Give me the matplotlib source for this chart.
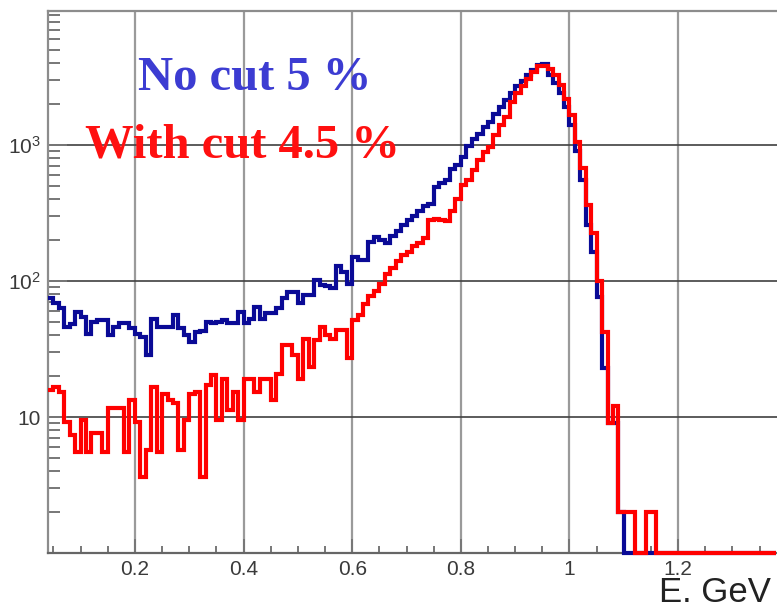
import numpy as np
import matplotlib
matplotlib.use("Agg")
import matplotlib.pyplot as plt
from matplotlib.ticker import FixedLocator, FixedFormatter, MultipleLocator, NullFormatter


# histogram binning (GeV)
BIN_START = 0.04
BIN_WIDTH = 0.01

# counts per bin, "No cut 5 %"
no_cut = [
    75, 69, 63, 46, 48, 59, 54, 41, 50, 52,
    52, 40, 46, 49, 49, 45, 41, 39, 28.5, 53,
    46, 46, 46, 56, 45, 40, 35.5, 42, 43, 50,
    49, 50, 52, 49, 49, 59, 49, 53, 65, 53,
    58, 58, 63, 75, 83, 83, 69, 79, 79, 102,
    93, 92, 89, 130, 117, 96, 150, 142, 143, 195,
    211, 200, 190, 215, 235, 258, 280, 300, 330, 355,
    372, 495, 525, 555, 670, 710, 820, 980, 1110, 1210,
    1370, 1480, 1700, 1900, 2140, 2410, 2710, 2950, 3300, 3600,
    3900, 3950, 3300, 2850, 2400, 1900, 1400, 910, 550, 260,
    163, 76, 23, 9, 9, 2, 0, 0, 0, 0,
    0, 0, 0, 0, 0, 0, 0, 0, 0, 0,
    0, 0, 0, 0, 0, 0, 0, 0, 0, 0,
    0, 0, 0, 0,
]

# counts per bin, "With cut 4.5 %"
with_cut = [
    15.8, 16.7, 15.3, 9.2, 7.4, 5.55, 9.5, 5.55, 7.6, 7.6,
    5.55, 11.6, 11.6, 11.6, 5.55, 13.3, 9.2, 3.64, 5.7, 16.7,
    5.55, 14.9, 13.3, 12.7, 5.7, 9.5, 14.9, 15.3, 3.64, 17.2,
    20.4, 9.5, 19.2, 11.2, 15.3, 9.5, 19.2, 19.2, 15.3, 19.2,
    19.2, 13.3, 20.9, 33.8, 33.8, 28.5, 19.2, 37.8, 23.4, 37,
    46, 40, 37.8, 43.5, 43.5, 27, 52, 56, 68, 78,
    85, 96, 112, 125, 140, 155, 165, 180, 190, 207,
    280, 285, 280, 275, 330, 405, 508, 555, 653, 780,
    890, 975, 1190, 1400, 1620, 2080, 2410, 2710, 3080, 3460,
    3850, 3850, 3650, 3300, 2770, 2200, 1660, 1050, 680, 360,
    225, 101, 42, 9, 12, 2, 2, 2, 0, 0,
    2, 2, 0, 0, 0, 0, 0, 0, 0, 0,
    0, 0, 0, 0, 0, 0, 0, 0, 0, 0,
    0, 0, 0, 0,
]

x_ticks = [0.2, 0.4, 0.6, 0.8, 1.0, 1.2]
x_tick_labels = ["0.2", "0.4", "0.6", "0.8", "1", "1.2"]
y_ticks = [1, 10, 100, 1000]
y_tick_labels = ["", "10", r"$\mathregular{10^{2}}$", r"$\mathregular{10^{3}}$"]

X_MIN, X_MAX = 0.04, 1.382
Y_MIN, Y_MAX = 1.0, 9700.0

W, H = 777, 606


def draw_hist(ax, counts, color):
    """
    Draw one histogram as a step outline, empty bins sit on the bottom axis.
    """
    counts = np.asarray(counts, dtype=float)
    edges = BIN_START + BIN_WIDTH * np.arange(len(counts) + 1)
    shown = np.maximum(counts, Y_MIN)
    patch = ax.stairs(shown, edges, baseline=None, color=color, lw=3.0,
                      clip_on=False, zorder=5)
    patch.set_joinstyle("miter")
    return patch


def main() -> None:
    plt.rcParams["font.family"] = ["Liberation Sans", "DejaVu Sans"]
    plt.rcParams["mathtext.fontset"] = "custom"
    plt.rcParams["mathtext.rm"] = "Liberation Sans"

    fig = plt.figure(figsize=(W / 100, H / 100), dpi=100)
    ax = fig.add_axes([48 / W, 53 / H, 1 - 48 / W, (553 - 11) / H])

    ax.set_yscale("log")
    ax.set_xlim(X_MIN, X_MAX)
    ax.set_ylim(Y_MIN, Y_MAX)

    draw_hist(ax, no_cut, "#0a0a96")
    draw_hist(ax, with_cut, "#ff0000")

    # ticks
    ax.xaxis.set_major_locator(FixedLocator(x_ticks))
    ax.xaxis.set_major_formatter(FixedFormatter(x_tick_labels))
    ax.xaxis.set_minor_locator(MultipleLocator(0.05))
    ax.yaxis.set_major_locator(FixedLocator(y_ticks))
    ax.yaxis.set_major_formatter(FixedFormatter(y_tick_labels))
    ax.yaxis.set_minor_locator(FixedLocator(
        [m * 10 ** e for e in range(4) for m in range(2, 10)]))
    ax.yaxis.set_minor_formatter(NullFormatter())

    ax.tick_params(axis="both", which="both", direction="in", colors="#777777",
                   labelcolor="#3a3a3a", labelsize=15, width=1.4)
    ax.tick_params(axis="x", which="major", length=10, pad=5)
    ax.tick_params(axis="x", which="minor", length=5)
    ax.tick_params(axis="y", which="major", length=14, pad=5)
    ax.tick_params(axis="y", which="minor", length=8.5)
    ax.tick_params(top=False, right=False)

    # grid
    ax.set_axisbelow(True)
    ax.grid(axis="x", which="major", color="#9a9a9a", lw=1.6)
    ax.grid(axis="y", which="major", color="#404040", lw=1.2)

    for side in ["left", "top", "bottom"]:
        ax.spines[side].set_color("#8c8c8c")
        ax.spines[side].set_linewidth(1.6)
    ax.spines["bottom"].set_color("#666666")
    ax.spines["right"].set_visible(False)

    # labels
    fig.text(138 / W, 1 - 90 / H, "No cut 5 %", color="#3c3cd2",
             family="Liberation Serif", weight="bold", fontsize=35,
             va="baseline", ha="left")
    fig.text(85 / W, 1 - 157 / H, "With cut 4.5 %", color="#ff1010",
             family="Liberation Serif", weight="bold", fontsize=35,
             va="baseline", ha="left")
    fig.text(771 / W, 1 - 602 / H, "E. GeV", color="#222222",
             fontsize=25, va="baseline", ha="right", zorder=10)

    fig.savefig("out.png", dpi=100)


if __name__ == "__main__":
    main()
